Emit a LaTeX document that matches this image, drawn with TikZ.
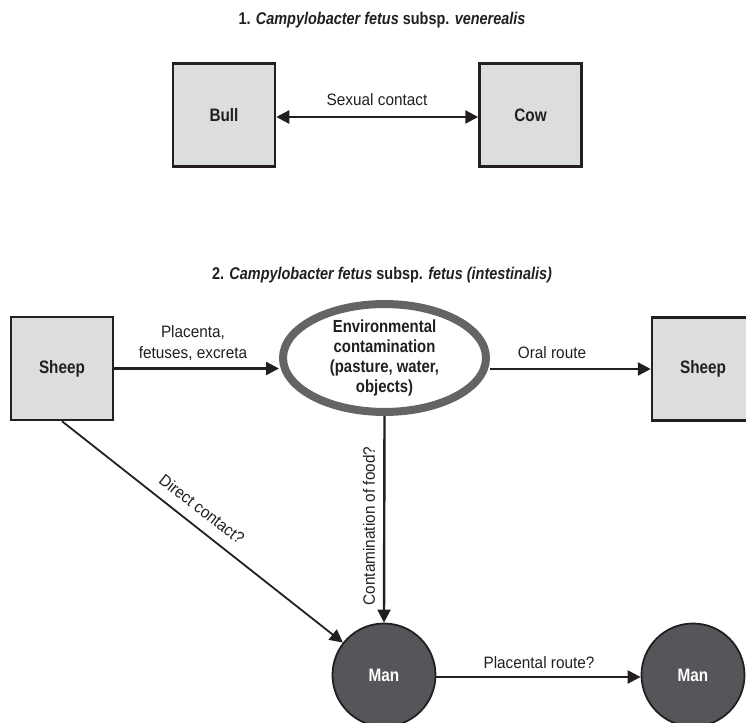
\documentclass[tikz,border=0pt]{standalone}
\usepackage{fontspec}
\setmainfont{Liberation Sans}[FakeStretch=0.93]
\newfontfamily\bfam{Liberation Sans}[FakeStretch=0.85]
\usetikzlibrary{arrows.meta,shapes.geometric}
\definecolor{boxfill}{HTML}{DCDDDF}
\definecolor{edge}{HTML}{231F20}
\definecolor{ring}{HTML}{636466}
\definecolor{mandark}{HTML}{555659}
\tikzset{
  box/.style={draw=edge, line width=2.5pt, fill=boxfill, minimum width=102pt, minimum height=103pt, inner sep=0pt,
    font=\bfam\bfseries\fontsize{18}{20}\selectfont, text=edge},
  mannode/.style={circle, draw=edge, line width=1.8pt, fill=mandark, minimum size=103pt, inner sep=0pt,
    font=\bfam\bfseries\fontsize{18}{20}\selectfont, text=white},
  envnode/.style={ellipse, draw=ring, line width=8pt, fill=white, minimum width=203pt, minimum height=102pt, inner sep=0pt,
    align=center, font=\bfam\bfseries\fontsize{17.5}{20}\selectfont, text=edge},
  lbl/.style={font=\fontsize{16.5}{21}\selectfont, text=edge, inner sep=0pt, align=center},
  ttl/.style={font=\bfam\bfseries\fontsize{17}{20}\selectfont, text=edge, inner sep=0pt},
  arr/.style={draw=edge, line width=2.4pt, -{Triangle[length=13pt,width=13pt]}},
  darr/.style={draw=edge, line width=2.4pt, {Triangle[length=13pt,width=13pt]}-{Triangle[length=13pt,width=13pt]}},
  thinarr/.style={draw=edge, line width=1.8pt, -{Triangle[length=13pt,width=13pt]}}
}
\begin{document}
\begin{tikzpicture}[x=1pt, y=-1pt]
\useasboundingbox (0,0) rectangle (746,722);
% part 1
\node[ttl] (t1) at (382,20) {1. \textit{Campylobacter fetus} subsp. \textit{venerealis}};
\node[box] (bull) at (224,115) {Bull};
\node[box] (cow) at (530.5,115) {Cow};
\draw[darr] ([yshift=-2pt]bull.east) -- ([yshift=-2pt]cow.west);
\node[lbl] (sex) at (377,100) {Sexual contact};
% part 2
\node[ttl] (t2) at (382,275) {2. \textit{Campylobacter fetus} subsp. \textit{fetus (intestinalis)}};
\node[box] (sheepL) at (62,368.5) {Sheep};
\node[box] (sheepR) at (703,369) {Sheep};
\node[envnode] (env) at (384.5,358) {Environmental\\contamination\\(pasture, water,\\objects)};
\node[mannode] (manL) at (384,675) {Man};
\node[mannode] (manR) at (693,675) {Man};
\draw[arr] (sheepL.east) -- (env.west |- sheepL.east);
\draw[arr] (env.east |- sheepR.west) -- (sheepR.west);
\draw[arr] (env.south) -- (manL.north);
\draw[thinarr] (sheepL.south) -- (manL);
\draw[arr] ([yshift=-2pt]manL.east) -- ([yshift=-2pt]manR.west);
\node[lbl] (plac) at (193,343) {Placenta,\\fetuses, excreta};
\node[lbl] (oral) at (552,353) {Oral route};
\node[lbl, rotate=90] (food) at (369,526) {Contamination of food?};
\node[lbl, rotate=-37.8] (direct) at (202,509) {Direct contact?};
\node[lbl] (pr) at (539,663) {Placental route?};
\end{tikzpicture}
\end{document}
